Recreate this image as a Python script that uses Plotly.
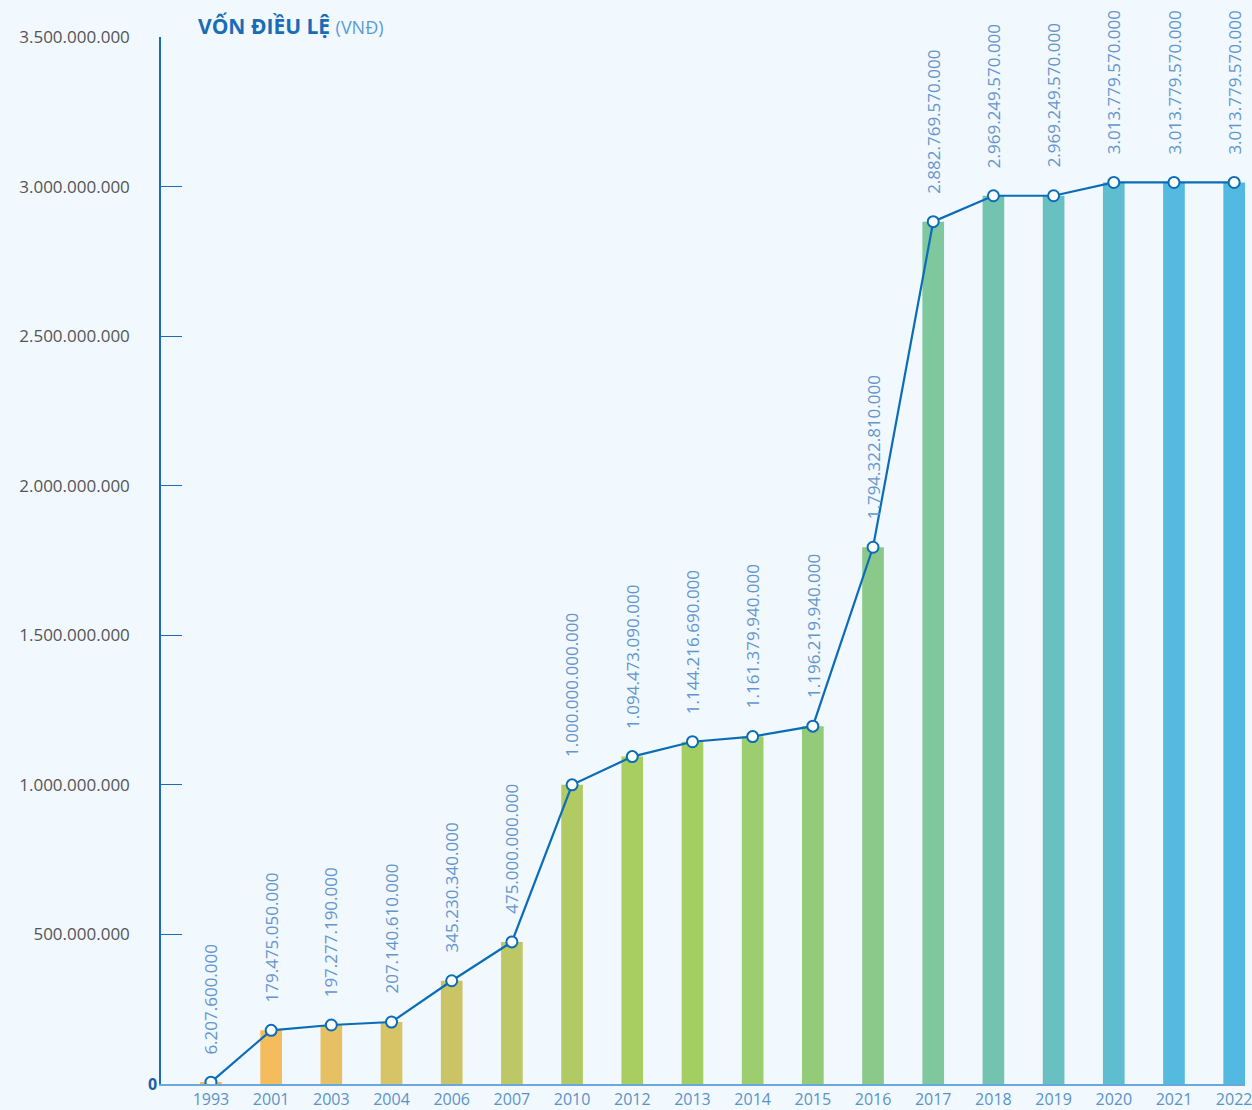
import plotly.graph_objects as go

years = ["1993", "2001", "2003", "2004", "2006", "2007", "2010", "2012", "2013",
         "2014", "2015", "2016", "2017", "2018", "2019", "2020", "2021", "2022"]
# Charter capital as printed on the labels
capital = [6207600000, 179475050000, 197277190000, 207140610000, 345230340000,
           475000000000, 1000000000000, 1094473090000, 1144216690000,
           1161379940000, 1196219940000, 1794322810000, 2882769570000,
           2969249570000, 2969249570000, 3013779570000, 3013779570000,
           3013779570000]
bar_colors = ["#f5b75a", "#f5bc5e", "#e6c163", "#d6c466", "#cbc466", "#bdc765",
              "#b2ca63", "#a8cd61", "#a3cf62", "#9ccd6e", "#94cb78", "#8bc98a",
              "#7fc79c", "#73c3b0", "#68c1c0", "#5fbdd0", "#55bae0", "#53b9e0"]
y_ticks = [0, 500000000000, 1000000000000, 1500000000000, 2000000000000,
           2500000000000, 3000000000000, 3500000000000]
y_ticktext = ["", "500.000.000", "1.000.000.000", "1.500.000.000", "2.000.000.000",
              "2.500.000.000", "3.000.000.000", "3.500.000.000"]


def fmt(v):
    return f"{v:,}".replace(",", ".")


labels = [fmt(v) for v in capital]

BG = "#f1f8fe"
DARK = "#0b6db7"
LABEL = "#6496cd"

fig = go.Figure()
fig.add_trace(go.Bar(x=years, y=capital, marker=dict(color=bar_colors, line=dict(width=0)),
                     width=0.36, hoverinfo="skip"))
fig.add_trace(go.Scatter(x=years, y=capital, mode="lines+markers",
                         line=dict(color=DARK, width=2.2),
                         marker=dict(size=11, color="white", line=dict(color=DARK, width=2))))

for i, (v, t) in enumerate(zip(capital, labels)):
    fig.add_annotation(x=i, y=v, xref="x", yref="y", text=t, textangle=-90, showarrow=False,
                       yanchor="bottom", xanchor="center", yshift=26,
                       font=dict(family="Open Sans", size=17, color=LABEL))

fig.add_annotation(xref="paper", yref="y", x=-0.0075, y=0, text="<b>0</b>",
                   showarrow=False, xanchor="center", yanchor="middle",
                   font=dict(family="Open Sans", size=16, color="#1a5fa8"))

fig.update_layout(
    width=1252, height=1110,
    paper_bgcolor=BG, plot_bgcolor=BG,
    margin=dict(l=161, r=0, t=37, b=20),
    showlegend=False,
    title=dict(text="<b>VỐN ĐIỀU LỆ</b> <span style='font-size:18px;color:#5b9bd5;font-weight:normal'>(VNĐ)</span>",
               xref="container", yref="container", x=198 / 1252, y=1 - 27 / 1110,
               xanchor="left", yanchor="middle",
               font=dict(family="Open Sans", size=21, color="#1a6cb5")),
    xaxis=dict(type="category", range=[-0.83, 17.18], showgrid=False, zeroline=False,
               showline=True, linecolor="#6aa8dc", linewidth=2,
               tickfont=dict(family="Open Sans", size=16, color="#5a93c8"),
               ticks="", fixedrange=True),
    yaxis=dict(range=[0, 3500000000000], tickvals=y_ticks, ticktext=y_ticktext,
               showgrid=False, zeroline=False, showline=True, linecolor="#1a6cb5",
               linewidth=1.5, ticks="inside", ticklen=21, tickcolor="#1a6cb5",
               tickwidth=1, ticklabelstandoff=26,
               tickfont=dict(family="Open Sans", size=17, color="#555555")),
)

post = ("document.body.style.margin='0';document.body.style.padding='0';"
        "document.body.style.overflow='hidden';"
        "document.documentElement.style.overflow='hidden';"
        "document.body.style.background='" + BG + "';")
fig.write_html("out.html", post_script=post, config={"displayModeBar": False})
